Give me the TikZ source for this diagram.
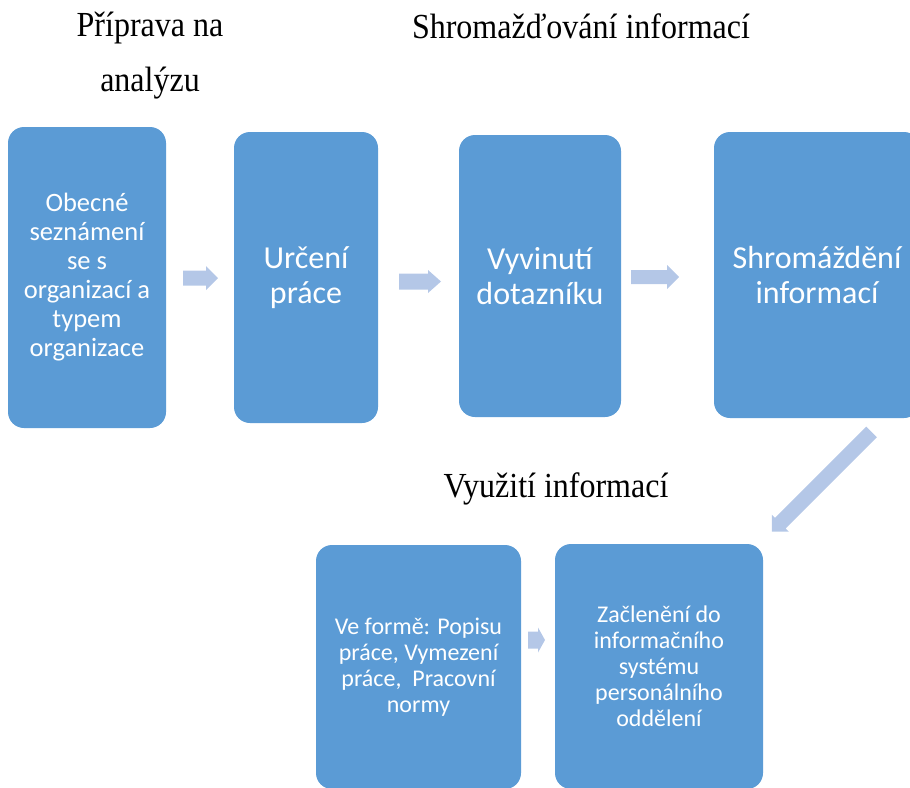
\documentclass[tikz,border=0pt]{standalone}
\usepackage{fontspec}
\usepackage{graphicx}
\setmainfont{Liberation Serif}
\newfontfamily\boxfont{Carlito}
\definecolor{boxblue}{HTML}{5B9BD5}
\definecolor{arrblue}{HTML}{B4C7E7}
\tikzset{
  stepbox/.style={fill=boxblue, draw=none, rounded corners=16pt, inner sep=0pt, align=center, text=white},
  bigtxt/.style={font=\boxfont\fontsize{32}{35}\selectfont},
  midtxt/.style={font=\boxfont\fontsize{26.5}{29}\selectfont},
  smalltxt/.style={font=\boxfont\fontsize{24}{26}\selectfont},
  heading/.style={anchor=base, inner sep=0pt, font=\fontsize{32}{35}\selectfont},
  pics/barrow/.style n args={4}{code={
    \fill[arrblue] (0,-#2) -- (#1-#4,-#2) -- (#1-#4,-#3) -- (#1,0) -- (#1-#4,#3) -- (#1-#4,#2) -- (0,#2) -- cycle;
  }}
}
\newcommand{\vstretch}[1]{\scalebox{1}[1.1]{#1}}
\begin{document}
\begin{tikzpicture}[x=1pt,y=-1pt]
\clip (0,0) rectangle (910,787);
\useasboundingbox (0,0) rectangle (910,787);

% headings
\node[heading] (h1) at (150,36) {\vstretch{Příprava na}};
\node[heading] (h2) at (150,91) {\vstretch{analýzu}};
\node[heading] (h3) at (581,38) {\vstretch{Shromažďování informací}};
\node[heading] (h4) at (556,497) {\vstretch{Využití informací}};

% boxes
\node[stepbox, midtxt, minimum width=158pt, minimum height=301pt] (b1) at (87,277.5)
  {Obecné\\seznámení\\se s\\organizací a\\typem\\organizace};
\node[stepbox, bigtxt, minimum width=144pt, minimum height=291pt] (b2) at (306,277.5)
  {Určení\\práce};
\node[stepbox, bigtxt, minimum width=162pt, minimum height=282pt] (b3) at (540,276)
  {Vyvinutí\\dotazníku};
\node[stepbox, bigtxt, minimum width=206pt, minimum height=286pt] (b4) at (817,275)
  {Shromáždění\\informací};
\node[stepbox, smalltxt, minimum width=205pt, minimum height=244pt] (b5) at (418.5,667)
  {Ve formě: Popisu\\práce, Vymezení\\práce,\ \ Pracovní\\normy};
\node[stepbox, smalltxt, minimum width=208pt, minimum height=245pt] (b6) at (659,666.5)
  {Začlenění do\\informačního\\systému\\personálního\\oddělení};

% block arrows
\coordinate (a1) at (183,278);
\coordinate (a2) at (399,281.5);
\coordinate (a3) at (631,277);
\coordinate (a4) at (528,640);
\coordinate (a5) at (871.5,432);
\pic at (a1) {barrow={35}{7.5}{12}{12}};
\pic at (a2) {barrow={42}{8}{11.5}{13}};
\pic at (a3) {barrow={48}{7}{12}{12}};
\pic at (a4) {barrow={17}{8.5}{12.5}{7}};
\pic[rotate=225] at (a5) {barrow={141}{7.5}{12}{12}};
\end{tikzpicture}
\end{document}
